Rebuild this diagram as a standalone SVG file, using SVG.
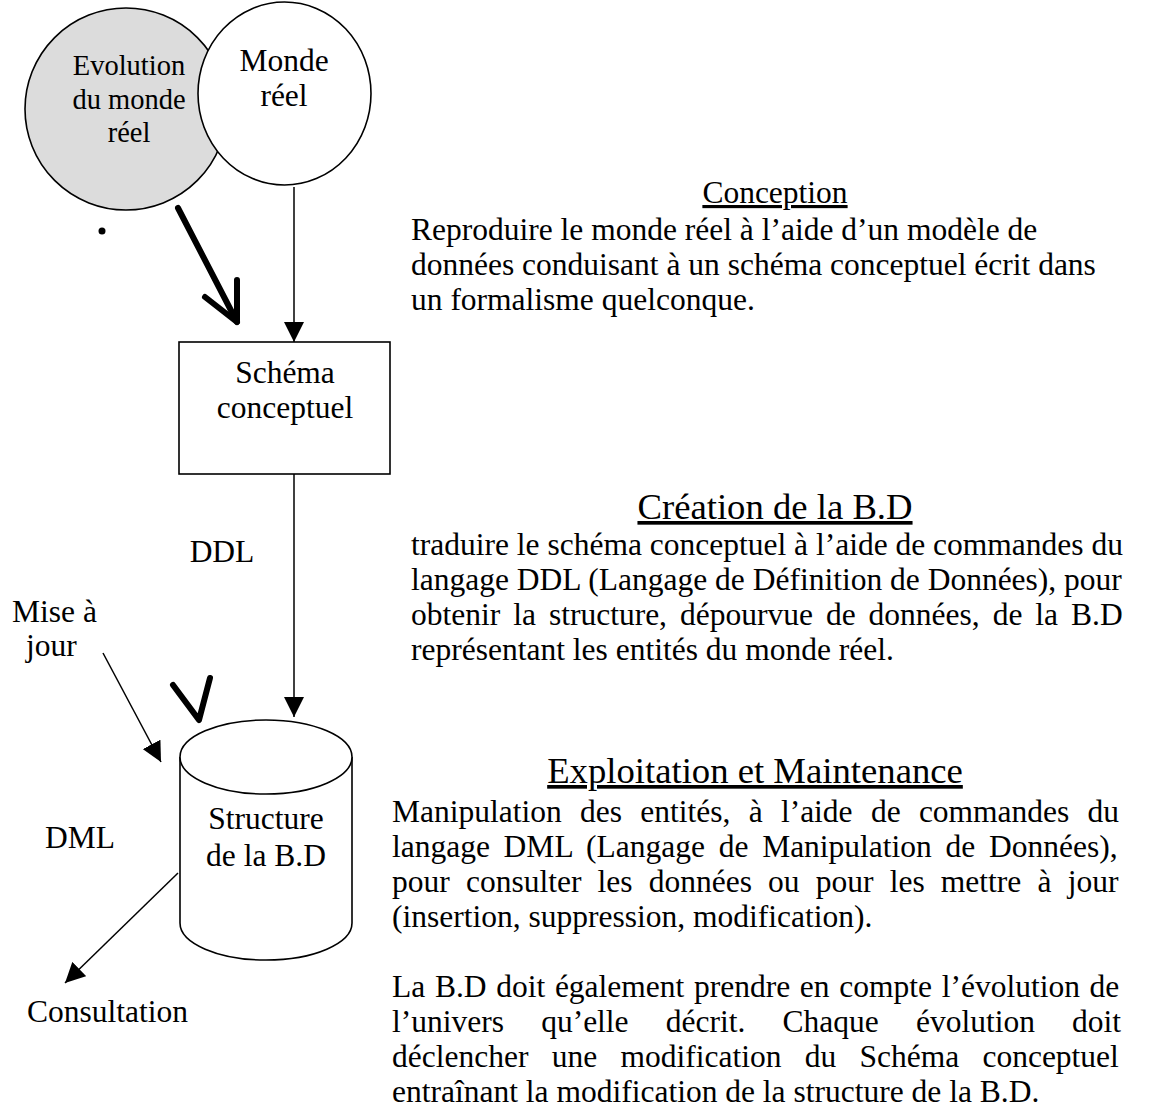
<svg xmlns="http://www.w3.org/2000/svg" width="1151" height="1119" viewBox="0 0 1151 1119">
<style>
text{font-family:"Liberation Serif","Times New Roman",serif;fill:#000}
.lbl{font-size:31.5px;text-anchor:middle}
.lft{font-size:31.5px}
.body{font-size:31.5px}
.h1{font-size:31.5px;text-anchor:middle;text-decoration:underline}
.h2{font-size:36.7px;text-anchor:middle;text-decoration:underline}
.shape{fill:#fff;stroke:#000;stroke-width:1.6}
.thin{fill:none;stroke:#000;stroke-width:1.5}
.thick{fill:none;stroke:#000;stroke-width:6;stroke-linecap:round;stroke-linejoin:round}
</style>
<defs>
<marker id="ah" viewBox="0 0 10 10" refX="10" refY="5" markerWidth="20" markerHeight="20" markerUnits="userSpaceOnUse" orient="auto">
<path d="M0,0 L10,5 L0,10 z" fill="#000"/>
</marker>
</defs>
<rect width="1151" height="1119" fill="#fff"/>

<g id="evolution">
<ellipse cx="126" cy="109" rx="101" ry="101" fill="#dcdcdc" stroke="#000" stroke-width="1.6"/>
<text class="lbl" style="font-size:28.5px" x="129" y="75">Evolution</text>
<text class="lbl" style="font-size:28.5px" x="129" y="109">du monde</text>
<text class="lbl" style="font-size:28.5px" x="129" y="142">réel</text>
</g>
<g id="monde-reel">
<ellipse class="shape" cx="284.5" cy="93.5" rx="86.5" ry="91.5"/>
<text class="lbl" x="284" y="71">Monde</text>
<text class="lbl" x="284" y="106">réel</text>
</g>
<g id="dot"><circle cx="102" cy="231" r="3.5" fill="#000"/></g>

<g id="schema">
<rect class="shape" x="179" y="342" width="211" height="132"/>
<text class="lbl" x="285" y="383">Schéma</text>
<text class="lbl" x="285" y="418">conceptuel</text>
</g>

<g id="structure">
<path class="shape" d="M180,757 L180,923 A86,37 0 0 0 352,923 L352,757"/>
<ellipse class="shape" cx="266" cy="757" rx="86" ry="37"/>
<text class="lbl" x="266" y="829">Structure</text>
<text class="lbl" x="266" y="866">de la B.D</text>
</g>

<g id="labels">
<text class="lbl" x="222" y="562">DDL</text>
<text class="lft" x="12" y="622">Mise à</text>
<text class="lft" x="26" y="656">jour</text>
<text class="lft" x="45" y="848">DML</text>
<text class="lft" x="27" y="1022">Consultation</text>
</g>

<g id="connectors">
<path class="thin" d="M294,187 L294,342" marker-end="url(#ah)"/>
<path class="thin" d="M294,474 L294,717" marker-end="url(#ah)"/>
<path class="thin" d="M103,653 L161,762" marker-end="url(#ah)"/>
<path class="thin" d="M178,873 L65,983" marker-end="url(#ah)"/>
<path class="thick" d="M178,208 L237,322"/>
<path class="thick" d="M205,297 L237,322 L237,280"/>
<path class="thick" d="M173,685 L199,720 L210,678"/>
</g>

<g id="conception">
<text class="h1" x="775" y="203">Conception</text>
<text class="body" x="411" y="240">Reproduire le monde réel à l’aide d’un modèle de</text>
<text class="body" x="411" y="275">données conduisant à un schéma conceptuel écrit dans</text>
<text class="body" x="411" y="310">un formalisme quelconque.</text>
</g>

<g id="creation">
<text class="h2" x="775" y="519">Création de la B.D</text>
<text class="body" x="411" y="555">traduire le schéma conceptuel à l’aide de commandes du</text>
<text class="body" x="411" y="590">langage DDL (Langage de Définition de Données), pour</text>
<text class="body" x="411" y="625" word-spacing="5.1">obtenir la structure, dépourvue de données, de la B.D</text>
<text class="body" x="411" y="660">représentant les entités du monde réel.</text>
</g>

<g id="exploitation">
<text class="h2" x="755" y="783">Exploitation et Maintenance</text>
<text class="body" x="392" y="822" word-spacing="10.4">Manipulation des entités, à l’aide de commandes du</text>
<text class="body" x="392" y="857" word-spacing="5.8">langage DML (Langage de Manipulation de Données),</text>
<text class="body" x="392" y="892" word-spacing="8.3">pour consulter les données ou pour les mettre à jour</text>
<text class="body" x="392" y="927">(insertion, suppression, modification).</text>
<text class="body" x="392" y="997" word-spacing="1.8">La B.D doit également prendre en compte l’évolution de</text>
<text class="body" x="392" y="1032" word-spacing="29.3">l’univers qu’elle décrit. Chaque évolution doit</text>
<text class="body" x="392" y="1067" word-spacing="15.4">déclencher une modification du Schéma conceptuel</text>
<text class="body" x="392" y="1102">entraînant la modification de la structure de la B.D.</text>
</g>
</svg>
